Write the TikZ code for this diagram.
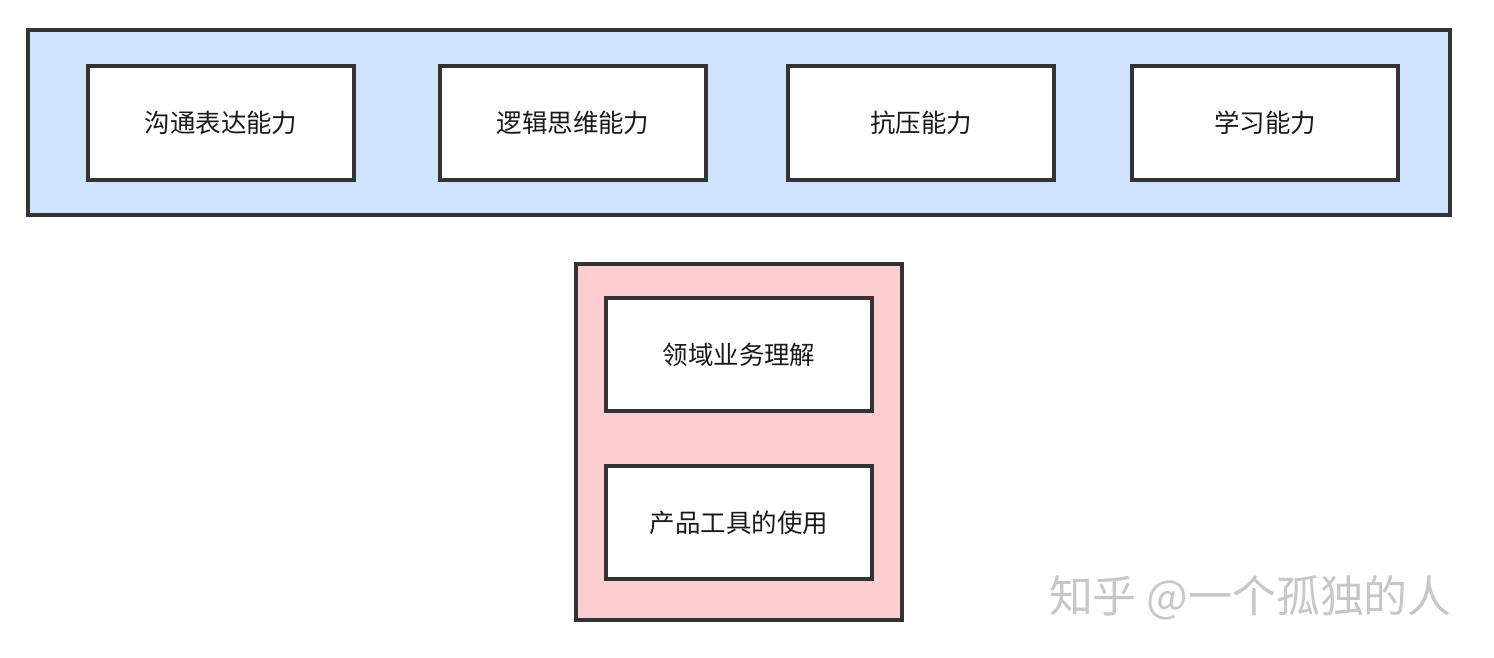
\documentclass[tikz,border=0pt]{standalone}
\usepackage{fontspec}
\newfontfamily\cjk{Noto Sans CJK SC}
\definecolor{bluebg}{HTML}{CFE3FD}
\definecolor{pinkbg}{HTML}{FECDCF}
\definecolor{edge}{HTML}{333333}
\begin{document}
\begin{tikzpicture}[x=0.02cm,y=-0.02cm,
  group/.style={draw=edge,line width=2.4pt},
  item/.style={draw=edge,fill=white,line width=2.4pt},
  lbl/.style={font=\cjk\fontsize{14.5}{17}\selectfont,text=black!90}]
\useasboundingbox (0,0) rectangle (1494,658);
\draw[group,fill=bluebg] (28,30) rectangle (1450,215);
\foreach \x/\t/\n in {88/沟通表达能力/a,440/逻辑思维能力/b,788/抗压能力/c,1132/学习能力/d}{
  \draw[item] (\x,66) rectangle ++(266,114);
  \node[lbl] (\n) at (\x+133,123) {\t};
}
\draw[group,fill=pinkbg] (576,264) rectangle (902,620);
\draw[item] (606,298) rectangle (872,411);
\node[lbl] (e) at (739,355) {领域业务理解};
\draw[item] (606,466) rectangle (872,579);
\node[lbl] (f) at (739,523) {产品工具的使用};
\node[font=\cjk\fontsize{25}{30}\selectfont,text=black!22,anchor=east] (w) at (1458,598) {知乎 @一个孤独的人};
\end{tikzpicture}
\end{document}
